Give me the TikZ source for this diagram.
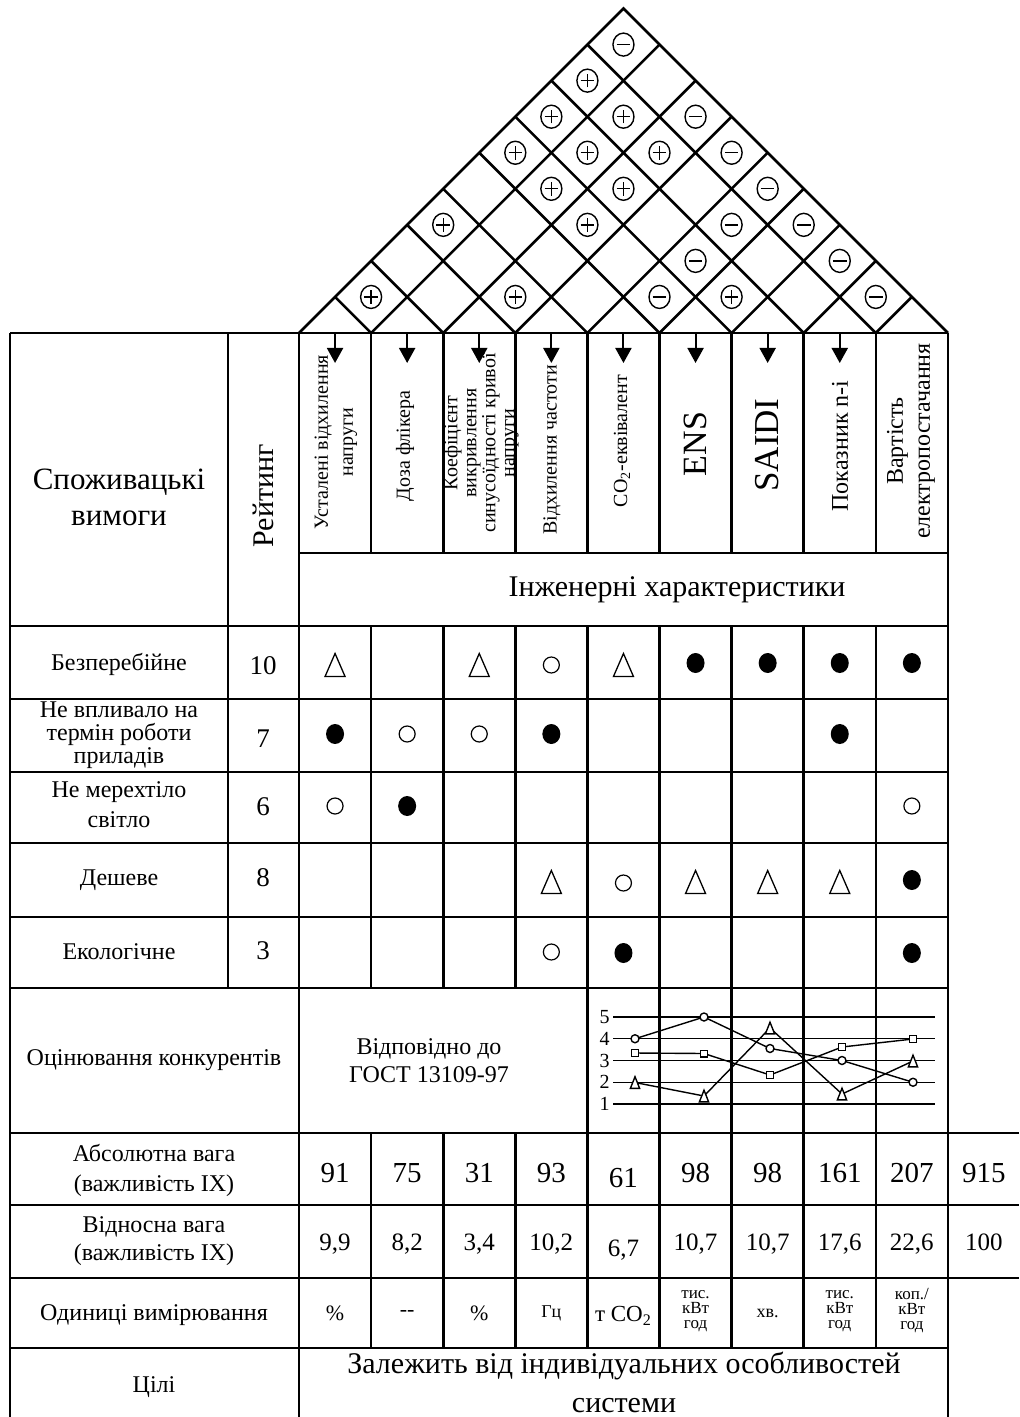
\documentclass[tikz,border=0pt]{standalone}
\usepackage{fontspec}
\setmainfont{Liberation Serif}
\usetikzlibrary{arrows.meta,shapes.geometric}
\begin{document}
\begin{tikzpicture}[x=0.5pt,y=-0.5pt,
  ln/.style={line width=1.3pt},
  roofln/.style={line width=1.3pt},
  chartln/.style={line width=0.7pt},
  txt/.style={inner sep=0pt, align=center},
  corr/.style={ellipse, draw, line width=0.7pt, inner sep=0pt, minimum width=10.5pt, minimum height=11.5pt},
  pl/.style={corr, path picture={\draw[line width=0.7pt] ([xshift=-3.4pt]path picture bounding box.center) -- ([xshift=3.4pt]path picture bounding box.center) ([yshift=-3.4pt]path picture bounding box.center) -- ([yshift=3.4pt]path picture bounding box.center);}},
  mn/.style={corr, path picture={\draw[line width=0.7pt] ([xshift=-3.4pt]path picture bounding box.center) -- ([xshift=3.4pt]path picture bounding box.center);}},
  full/.style={ellipse, fill, inner sep=0pt, minimum width=9pt, minimum height=10pt},
  empty/.style={circle, draw, line width=0.6pt, inner sep=0pt, minimum size=8pt},
  arr/.style={line width=1pt, -{Triangle[length=7.5pt,width=8pt]}},
  tri/.pic={\draw[line width=0.65pt] (-5pt,-5.75pt) -- (0pt,5.75pt) -- (5pt,-5.75pt) -- cycle;},
  mtri/.pic={\draw[line width=0.7pt, fill=white] (-2.3pt,-2.9pt) -- (0pt,2.9pt) -- (2.3pt,-2.9pt) -- cycle;},
  mcirc/.style={circle, draw, fill=white, line width=0.7pt, inner sep=0pt, minimum size=4pt},
  msq/.style={rectangle, draw, fill=white, line width=0.7pt, inner sep=0pt, minimum size=3.3pt},
  f24/.style={font=\fontsize{12}{11.5}\selectfont},
]
\useasboundingbox (0,0) rectangle (1019,1417);

% ---------------- roof ----------------
\draw[roofln] (299,333) -- (623.45,8.55) -- (947.9,333);
\foreach \k in {1,...,8}{
  \pgfmathsetmacro\bk{299+\k*72.1}
  \draw[roofln] (\bk,333) -- ({(\bk+947.9)/2},{333-(947.9-\bk)/2});
  \draw[roofln] (\bk,333) -- ({(299+\bk)/2},{333-(\bk-299)/2});
}
\foreach \i/\j in {1/8,1/7,2/8,1/6,2/7,3/8,2/6,3/7,1/4,3/6,1/2,3/4,6/7}{
  \pgfmathsetmacro\cx{299+((\i+\j)/2-0.5)*72.1}
  \pgfmathsetmacro\cy{333-(\j-\i)*36.05}
  \node[pl] (r\i\j) at (\cx,\cy) {};
}
\foreach \i/\j in {1/9,3/9,4/9,5/9,5/8,6/9,5/7,7/9,5/6,8/9}{
  \pgfmathsetmacro\cx{299+((\i+\j)/2-0.5)*72.1}
  \pgfmathsetmacro\cy{333-(\j-\i)*36.05}
  \node[mn] (r\i\j) at (\cx,\cy) {};
}

% ---------------- grid ----------------
\draw[ln] (10,333) -- (947.9,333);
\draw[ln] (299,553) -- (947.9,553);
\foreach \y in {626,699,772,843,917,988} \draw[ln] (10,\y) -- (947.9,\y);
\foreach \y in {1133,1205,1278} \draw[ln] (10,\y) -- (1019,\y);
\draw[ln] (10,1348) -- (947.9,1348);
\draw[ln] (10,333) -- (10,1417);
\draw[ln] (228,333) -- (228,988);
\draw[ln] (299,333) -- (299,1417);
\draw[ln] (947.9,333) -- (947.9,1417);
\foreach \k in {1,...,8}{
  \pgfmathsetmacro\bx{299+72.1*\k}
  \draw[ln] (\bx,333) -- (\bx,553);
  \draw[ln] (\bx,626) -- (\bx,988);
  \draw[ln] (\bx,1133) -- (\bx,1348);
}
\foreach \k in {4,...,8}{
  \pgfmathsetmacro\bx{299+72.1*\k}
  \draw[ln] (\bx,988) -- (\bx,1133);
}

% ---------------- header arrows ----------------
\foreach \i in {1,...,8}{
  \pgfmathsetmacro\cx{299+72.1*(\i-0.5)}
  \coordinate (as\i) at (\cx,333);
  \coordinate (ae\i) at (\cx,363);
  \draw[arr] (as\i) -- (ae\i);
}

% ---------------- header texts ----------------
\node[txt, font=\fontsize{15.5}{18}\selectfont] (sv) at (119,497) {Споживацькі\\вимоги};
\node[txt, rotate=90, font=\fontsize{15}{18}\selectfont] (rt) at (263,496) {Рейтинг};
\node[txt, rotate=90, font=\fontsize{10}{12.5}\selectfont] (h1) at (336,442) {Усталені відхилення\\напруги};
\node[txt, rotate=90, font=\fontsize{10}{12}\selectfont] (h2) at (405,446) {Доза флікера};
\node[txt, rotate=90, font=\fontsize{10}{9.5}\selectfont] (h3) at (481,443) {Коефіцієнт\\викривлення\\синусоїдності кривої\\напруги};
\node[txt, rotate=90, font=\fontsize{10}{12}\selectfont] (h4) at (552,450) {Відхилення частоти};
\node[txt, rotate=90, font=\fontsize{10}{12}\selectfont] (h5) at (622,441) {CO\textsubscript{2}-еквівалент};
\node[txt, rotate=90, font=\fontsize{17}{20}\selectfont] (h6) at (695,444) {ENS};
\node[txt, rotate=90, font=\fontsize{17.5}{20}\selectfont] (h7) at (767,445) {SAIDI};
\node[txt, rotate=90, font=\fontsize{12}{14}\selectfont] (h8) at (840,446) {Показник n-i};
\node[txt, rotate=90, font=\fontsize{12}{13.5}\selectfont] (h9) at (911,441) {Вартість\\електропостачання};
\node[txt, font=\fontsize{15}{18}\selectfont] (ih) at (677,590) {Інженерні характеристики};

% ---------------- requirement rows ----------------
\node[txt, f24] (q1) at (119,664) {Безперебійне};
\node[txt, f24] (q2) at (119,735) {Не впливало на\\термін роботи\\приладів};
\node[txt, font=\fontsize{12}{15}\selectfont] (q3) at (119,805) {Не мерехтіло\\світло};
\node[txt, f24] (q4) at (119,880) {Дешеве};
\node[txt, f24] (q5) at (119,952) {Екологічне};
\foreach \r/\y/\v in {1/666/10,2/739/7,3/807/6,4/878/8,5/951/3}
  \node[txt, font=\fontsize{13.5}{16}\selectfont] (rt\r) at (263,\y) {\v};

% filled circles
\foreach \c/\r/\y in {6/1/663,7/1/663,8/1/663,9/1/663,1/2/734,4/2/734,8/2/734,2/3/806,9/4/880,5/5/953,9/5/953}{
  \pgfmathsetmacro\cx{299+72.1*(\c-0.5)}
  \node[full] (f\c\r) at (\cx,\y) {};
}
% open circles
\foreach \c/\r/\y in {4/1/665,2/2/734,3/2/734,1/3/806,9/3/806,5/4/883,4/5/952}{
  \pgfmathsetmacro\cx{299+72.1*(\c-0.5)}
  \node[empty] (o\c\r) at (\cx,\y) {};
}
% triangles
\foreach \c/\r/\y in {1/1/665,3/1/665,5/1/665,4/4/882,6/4/882,7/4/882,8/4/882}{
  \pgfmathsetmacro\cx{299+72.1*(\c-0.5)}
  \pic (t\c\r) at (\cx,\y) {tri};
}

% ---------------- competitors ----------------
\node[txt, f24] (oc) at (154,1060) {Оцінювання конкурентів};
\node[txt, font=\fontsize{12}{14}\selectfont] (gost) at (429,1061) {Відповідно до\\ГОСТ 13109-97};
\foreach \v in {1,...,5}{
  \pgfmathsetmacro\yy{1104-(\v-1)*21.75}
  \draw[chartln] (613,\yy) -- (935,\yy);
  \node[txt, anchor=east, font=\fontsize{10}{11}\selectfont] (lv\v) at (610,\yy) {\v};
}
\coordinate (ca1) at (635,1038.75); \coordinate (ca2) at (704,1017);
\coordinate (ca3) at (770,1048.5);  \coordinate (ca4) at (842,1060.5);
\coordinate (ca5) at (913,1082.25);
\coordinate (sb1) at (635,1053); \coordinate (sb2) at (704,1053.5);
\coordinate (sb3) at (770,1075); \coordinate (sb4) at (842,1047);
\coordinate (sb5) at (913,1039);
\coordinate (tc1) at (635,1082.5); \coordinate (tc2) at (704,1096);
\coordinate (tc3) at (770,1028);   \coordinate (tc4) at (842,1094);
\coordinate (tc5) at (913,1061);
\draw[chartln] (ca1) -- (ca2) -- (ca3) -- (ca4) -- (ca5);
\draw[chartln] (sb1) -- (sb2) -- (sb3) -- (sb4) -- (sb5);
\draw[chartln] (tc1) -- (tc2) -- (tc3) -- (tc4) -- (tc5);
\foreach \n in {1,...,5}{
  \node[mcirc] (mc\n) at (ca\n) {};
  \node[msq] (ms\n) at (sb\n) {};
  \pic (mt\n) at (tc\n) {mtri};
}

% ---------------- weights ----------------
\node[txt, font=\fontsize{12}{15}\selectfont] (aw) at (154,1170) {Абсолютна вага\\(важливість IX)};
\node[txt, font=\fontsize{12}{14}\selectfont] (rw) at (154,1241) {Відносна вага\\(важливість IX)};
\foreach \c/\v/\b in {1/91/1182,2/75/1182,3/31/1182,4/93/1182,5/61/1187,6/98/1182,7/98/1182,8/161/1182,9/207/1182,10/915/1182}{
  \pgfmathsetmacro\cx{299+72.1*(\c-0.5)}
  \node[txt, anchor=base, font=\fontsize{14.5}{16}\selectfont] (a\c) at (\cx,\b) {\v};
}
\foreach \c/\v/\b in {1/{9,9}/1250,2/{8,2}/1250,3/{3,4}/1250,4/{10,2}/1250,5/{6,7}/1256,6/{10,7}/1250,7/{10,7}/1250,8/{17,6}/1250,9/{22,6}/1250,10/100/1250}{
  \pgfmathsetmacro\cx{299+72.1*(\c-0.5)}
  \node[txt, anchor=base, font=\fontsize{12.5}{14}\selectfont] (w\c) at (\cx,\b) {\v};
}

% ---------------- units ----------------
\node[txt, f24] (un) at (154,1315) {Одиниці вимірювання};
\node[txt, font=\fontsize{11}{12}\selectfont] (u1) at (335.05,1313) {\%};
\node[txt, font=\fontsize{11}{12}\selectfont] (u2) at (407.15,1313) {-{}-};
\node[txt, font=\fontsize{11}{12}\selectfont] (u3) at (479.25,1313) {\%};
\node[txt, font=\fontsize{9}{10}\selectfont] (u4) at (551.35,1313) {Гц};
\node[txt, font=\fontsize{11.5}{12}\selectfont] (u5) at (623.45,1316) {т CO\textsubscript{2}};
\node[txt, font=\fontsize{8.5}{7.5}\selectfont] (u6) at (695.55,1311) {тис.\\кВт\\год};
\node[txt, font=\fontsize{9}{10}\selectfont] (u7) at (767.65,1313) {хв.};
\node[txt, font=\fontsize{8.5}{7.5}\selectfont] (u8) at (839.75,1311) {тис.\\кВт\\год};
\node[txt, font=\fontsize{8.5}{7.5}\selectfont] (u9) at (911.85,1311) {коп./\\кВт\\год};

% ---------------- goals ----------------
\node[txt, f24] (cl) at (154,1387) {Цілі};
\node[txt, anchor=base, font=\fontsize{15}{18}\selectfont] (z1) at (624,1373) {Залежить від індивідуальних особливостей};
\node[txt, anchor=base, font=\fontsize{15}{18}\selectfont] (z2) at (624,1412) {системи};
\end{tikzpicture}
\end{document}
